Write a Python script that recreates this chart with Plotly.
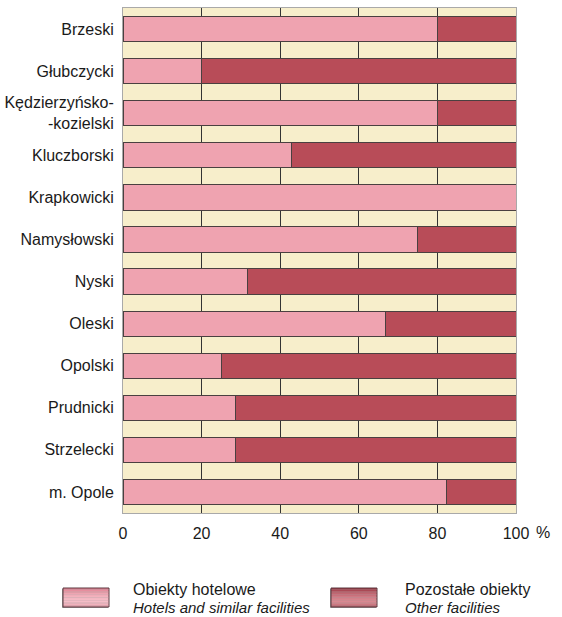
import plotly.graph_objects as go

categories = ["Brzeski", "Głubczycki", "Kędzierzyńsko-<br>-kozielski", "Kluczborski",
              "Krapkowicki", "Namysłowski", "Nyski", "Oleski", "Opolski",
              "Prudnicki", "Strzelecki", "m. Opole"]
hotels = [80.0, 20.0, 80.0, 42.9, 100.0, 75.0, 31.6, 66.7, 25.0, 28.6, 28.6, 82.4]
other = [round(100 - h, 1) for h in hotels]
x_ticks = [0, 20, 40, 60, 80, 100]

FONT = "Liberation Sans, Arial, sans-serif"
PINK = "#EFA3B0"
RED = "#B84C58"
BEIGE = "#F7EECB"

fig = go.Figure()
fig.add_trace(go.Bar(y=categories, x=hotels, orientation="h", name="Obiekty hotelowe",
                     marker=dict(color=PINK, line=dict(color="#4a4040", width=1)),
                     hoverinfo="x+y"))
fig.add_trace(go.Bar(y=categories, x=other, orientation="h", name="Pozostałe obiekty",
                     marker=dict(color=RED, line=dict(color="#4a4040", width=1)),
                     hoverinfo="x+y"))

fig.update_layout(
    width=562, height=617,
    barmode="stack", bargap=0.40,
    showlegend=False,
    paper_bgcolor="white", plot_bgcolor=BEIGE,
    margin=dict(l=123, r=46, t=8, b=104, autoexpand=False),
    font=dict(family=FONT, size=16, color="#1a1a1a"),
    xaxis=dict(range=[0, 100], tickvals=x_ticks, ticktext=[str(v) for v in x_ticks],
               showgrid=True, gridcolor="#333333", gridwidth=1,
               showline=True, mirror=True, linecolor="#a9a9a9", linewidth=1,
               zeroline=False, ticks="", ticklabelstandoff=6, tickfont=dict(size=16),
               fixedrange=True, automargin=False),
    yaxis=dict(categoryorder="array", categoryarray=categories, autorange="reversed",
               showgrid=False, showline=True, mirror=True, linecolor="#a9a9a9", linewidth=1,
               ticks="", ticklabelstandoff=5, tickfont=dict(size=16), fixedrange=True,
               automargin=False),
)

W = 562 - 123 - 46
H = 617 - 8 - 104
def px(x):
    return (x - 123) / W
def py(y):
    return (617 - 104 - y) / H

# percent sign after the axis
fig.add_annotation(x=px(543), xref="paper", y=py(532), yref="paper", text="%",
                   showarrow=False, font=dict(size=16), xanchor="center", yanchor="middle")

def mix(c1, c2, t):
    a = [int(c1[i:i + 2], 16) for i in (1, 3, 5)]
    b = [int(c2[i:i + 2], 16) for i in (1, 3, 5)]
    return "#%02x%02x%02x" % tuple(round(a[k] + (b[k] - a[k]) * t) for k in range(3))

# legend swatches (vertical gradient: dark top, light lower-middle, slightly dark bottom)
def swatch(x0, x1, ytop, ybot, light, dark):
    profile = [0.0, 0.25, 0.45, 0.6, 0.72, 0.82, 0.9, 0.95, 1.0, 0.95, 0.8, 0.55]
    n = len(profile)
    h = (ybot - ytop) / n
    # shadow
    fig.add_shape(type="rect", xref="paper", yref="paper",
                  x0=px(x0 - 1), x1=px(x1 - 1), y0=py(ybot + 1), y1=py(ytop + 1),
                  fillcolor="#9a9a9a", line=dict(width=0), layer="above")
    for i, t in enumerate(profile):
        fig.add_shape(type="rect", xref="paper", yref="paper",
                      x0=px(x0), x1=px(x1), y0=py(ytop + (i + 1) * h), y1=py(ytop + i * h),
                      fillcolor=mix(dark, light, t), line=dict(width=0), layer="above")
    fig.add_shape(type="rect", xref="paper", yref="paper",
                  x0=px(x0), x1=px(x1), y0=py(ybot), y1=py(ytop),
                  line=dict(color="#5a3a40", width=1), layer="above")

swatch(63, 109, 588, 607, "#F5BDC7", "#E27F91")
swatch(331, 377, 588, 607, "#D98891", "#9C3441")

legend_texts = [
    (131, "Obiekty hotelowe", "Hotels and similar facilities"),
    (403, "Pozostałe obiekty", "Other facilities"),
]
for x, pl, en in legend_texts:
    fig.add_annotation(x=px(x), xref="paper", y=py(589), yref="paper", text=pl,
                       showarrow=False, xanchor="left", yanchor="middle",
                       font=dict(size=16, color="#1a1a1a"))
    fig.add_annotation(x=px(x), xref="paper", y=py(607), yref="paper", text="<i>" + en + "</i>",
                       showarrow=False, xanchor="left", yanchor="middle",
                       font=dict(size=15, color="#1a1a1a"))

fig.write_html("out.html", config={"displayModeBar": False},
               post_script="document.body.style.margin='0';")
